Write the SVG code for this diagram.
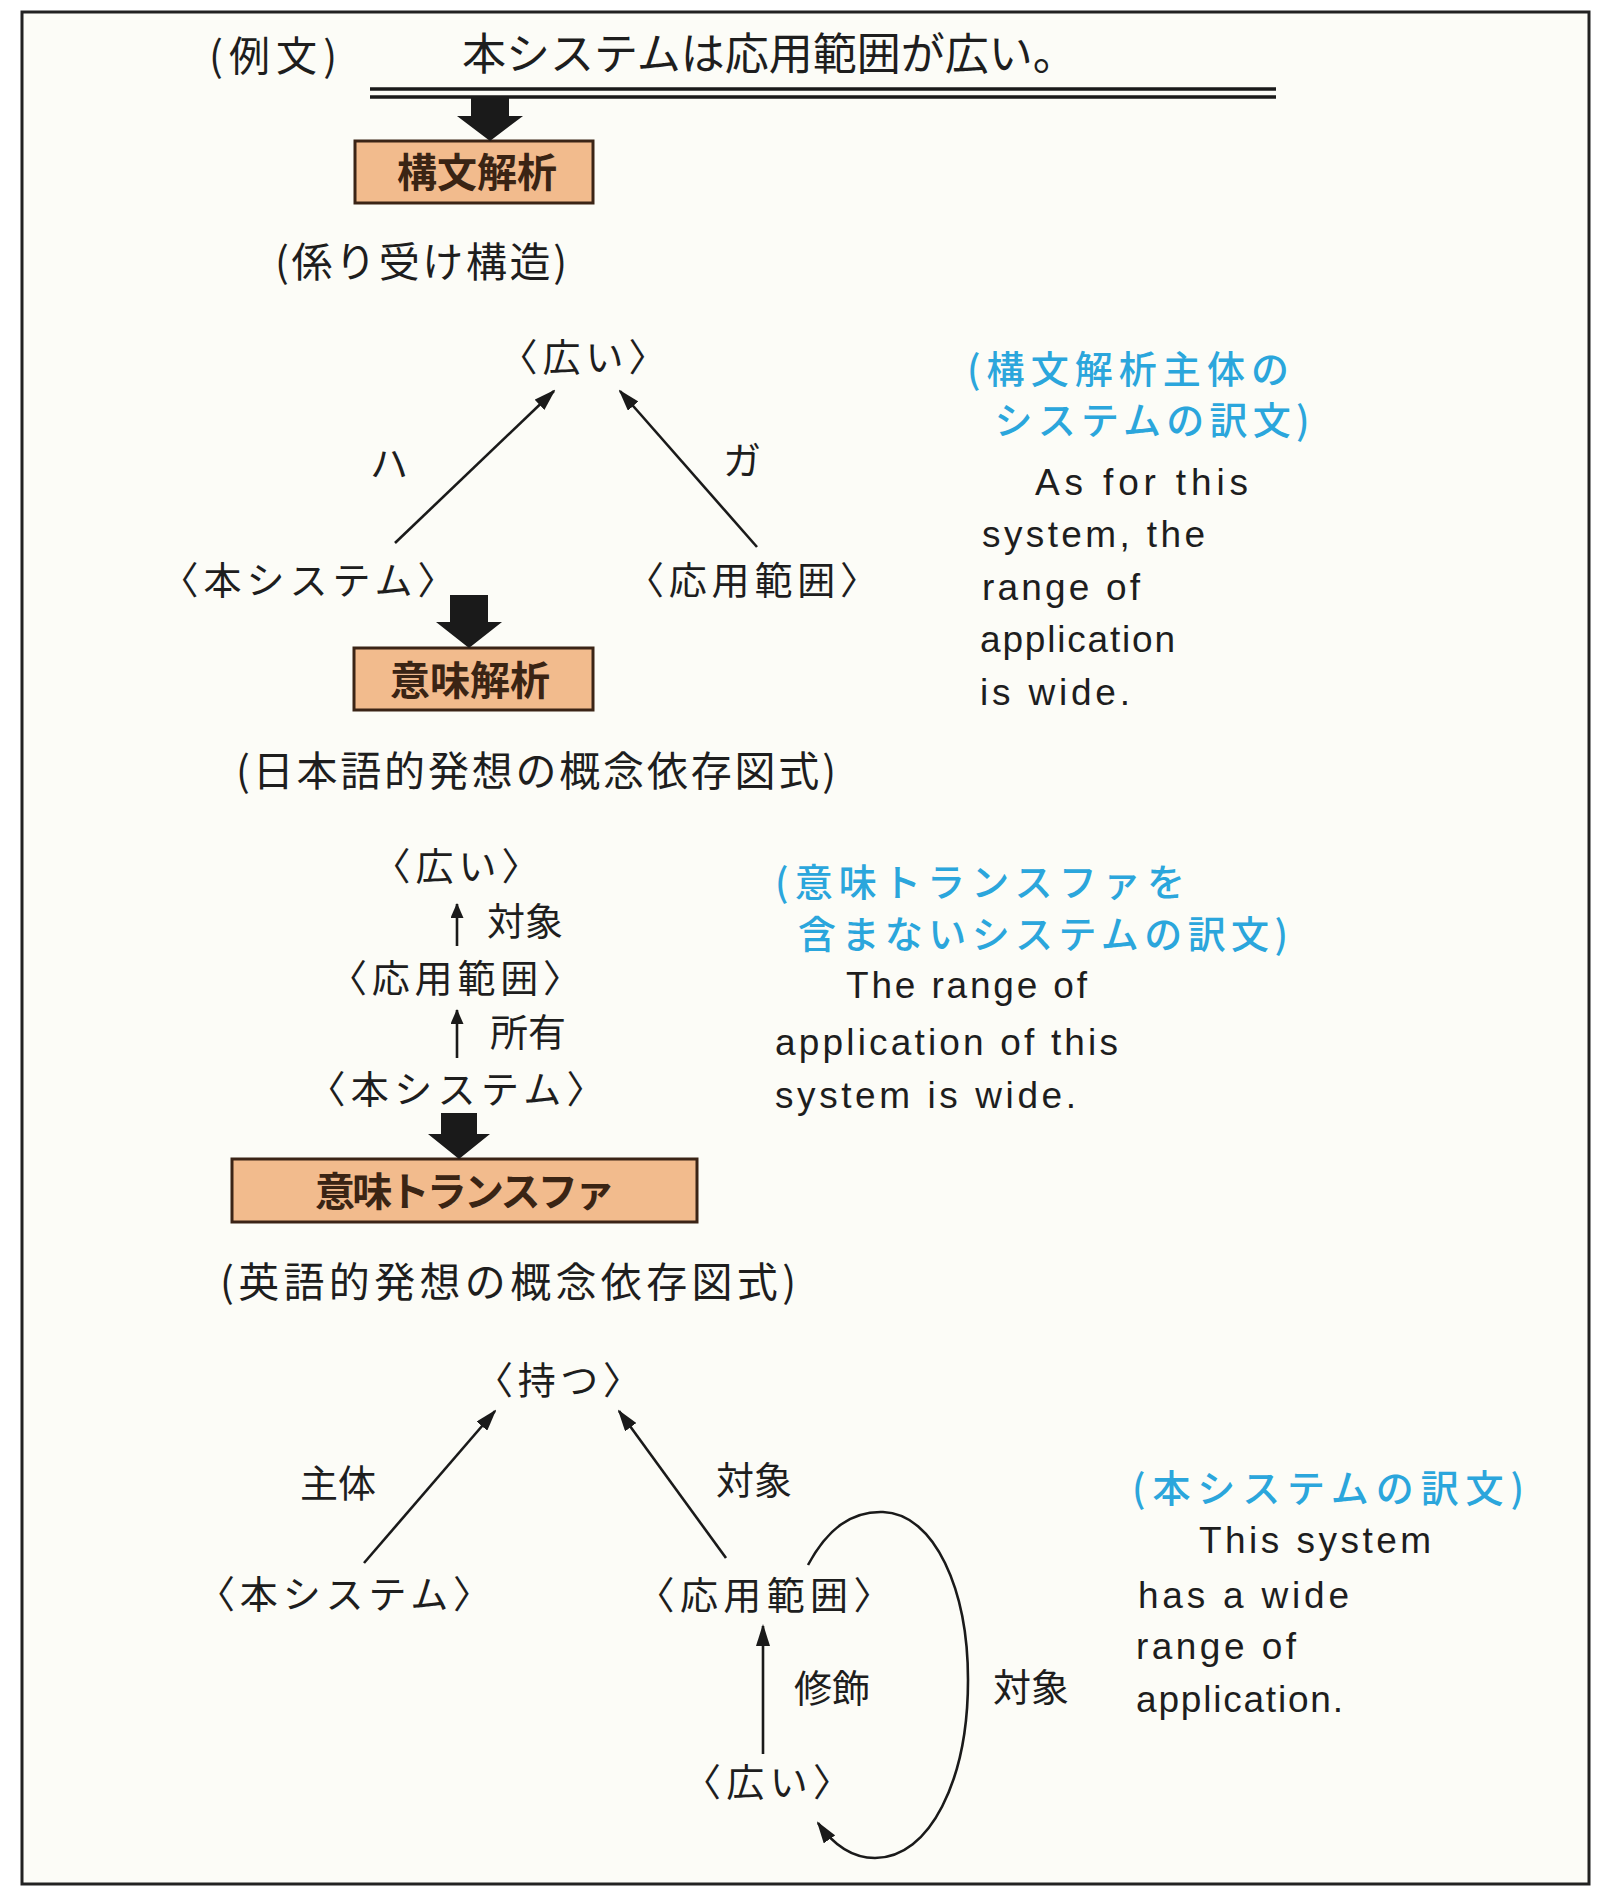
<svg xmlns="http://www.w3.org/2000/svg" width="1601" height="1888" viewBox="0 0 1601 1888">
<style>
 .jp { font-family: "Noto Sans CJK JP", "Noto Sans CJK SC", sans-serif; fill:#1e1e1e; }
 .en { font-family: "Liberation Sans Narrow", "Liberation Sans", Arial, sans-serif; fill:#1e1e1e; font-size:37px; }
 .blue { fill:#2ba6dc; font-size:38px; font-weight:500; }
 .lbl { font-size:38px; }
 .ttl { font-size:41px; }
 .box rect { fill:#f2bb8d; stroke:#3b2416; stroke-width:3; }
 .boxt { font-size:40px; font-weight:700; fill:#3a2414; }
 .edge { stroke:#1a1a1a; stroke-width:2.6; fill:none; }
 .thick { fill:#1a1a1a; }
</style>
<defs>
 <marker id="ah" viewBox="0 0 22 14" refX="20" refY="7" markerWidth="22" markerHeight="14" markerUnits="userSpaceOnUse" orient="auto">
  <path d="M0,0 L22,7 L0,14 Z" fill="#1a1a1a"/>
 </marker>
 <marker id="ahs" viewBox="0 0 15 13" refX="14" refY="6.5" markerWidth="15" markerHeight="13" markerUnits="userSpaceOnUse" orient="auto">
  <path d="M0,0 L15,6.5 L0,13 Z" fill="#1a1a1a"/>
 </marker>
</defs>

<rect x="0" y="0" width="1601" height="1888" fill="#ffffff"/>
<rect id="frame" x="22" y="12" width="1567" height="1872" fill="#fcfcf7" stroke="#222" stroke-width="3"/>

<!-- header -->
<g id="example-label"><text class="jp ttl" x="273" y="71" text-anchor="middle" textLength="128" lengthAdjust="spacing">(例文)</text></g>
<g id="example-sentence"><text class="jp" style="font-size:44px" x="462" y="70">本システムは応用範囲が広い。</text></g>
<g id="underline">
 <line x1="370" y1="89" x2="1276" y2="89" stroke="#1a1a1a" stroke-width="3.5"/>
 <line x1="370" y1="97" x2="1276" y2="97" stroke="#1a1a1a" stroke-width="3.5"/>
</g>

<!-- boxes -->
<g id="box-syntax" class="box">
 <rect x="355" y="141" width="238" height="62"/>
 <text class="jp boxt" x="477" y="187" text-anchor="middle">構文解析</text>
</g>
<g id="box-semantic" class="box">
 <rect x="354" y="648" width="239" height="62"/>
 <text class="jp boxt" x="470" y="695" text-anchor="middle">意味解析</text>
</g>
<g id="box-transfer" class="box">
 <rect x="232" y="1159" width="465" height="63"/>
 <text class="jp boxt" x="465" y="1206" text-anchor="middle" textLength="300" lengthAdjust="spacing">意味トランスファ</text>
</g>

<!-- section titles -->
<g id="title-dependency"><text class="jp ttl" x="421" y="277" text-anchor="middle" textLength="292" lengthAdjust="spacing">(係り受け構造)</text></g>
<g id="title-jp-cd"><text class="jp ttl" x="536" y="786" text-anchor="middle" textLength="600" lengthAdjust="spacing">(日本語的発想の概念依存図式)</text></g>
<g id="title-en-cd"><text class="jp ttl" x="508" y="1297" text-anchor="middle" textLength="576" lengthAdjust="spacing">(英語的発想の概念依存図式)</text></g>

<!-- section 2 nodes -->
<g id="s2-hiroi"><text class="jp lbl" x="583" y="371" text-anchor="middle" textLength="167" lengthAdjust="spacing">〈広い〉</text></g>
<g id="s2-system"><text class="jp lbl" x="308" y="594" text-anchor="middle" textLength="295" lengthAdjust="spacing">〈本システム〉</text></g>
<g id="s2-range"><text class="jp lbl" x="752" y="594" text-anchor="middle" textLength="252" lengthAdjust="spacing">〈応用範囲〉</text></g>
<g id="s2-label-ha"><text class="jp lbl" x="389" y="477" text-anchor="middle">ハ</text></g>
<g id="s2-label-ga"><text class="jp lbl" x="742" y="474" text-anchor="middle">ガ</text></g>

<!-- section 3 nodes -->
<g id="s3-hiroi"><text class="jp lbl" x="456" y="880" text-anchor="middle" textLength="167" lengthAdjust="spacing">〈広い〉</text></g>
<g id="s3-label-taisho"><text class="jp lbl" x="525" y="935" text-anchor="middle">対象</text></g>
<g id="s3-range"><text class="jp lbl" x="455" y="992" text-anchor="middle" textLength="252" lengthAdjust="spacing">〈応用範囲〉</text></g>
<g id="s3-label-shoyu"><text class="jp lbl" x="528" y="1046" text-anchor="middle">所有</text></g>
<g id="s3-system"><text class="jp lbl" x="456" y="1103" text-anchor="middle" textLength="297" lengthAdjust="spacing">〈本システム〉</text></g>

<!-- section 4 nodes -->
<g id="s4-motsu"><text class="jp lbl" x="558" y="1394" text-anchor="middle" textLength="166" lengthAdjust="spacing">〈持つ〉</text></g>
<g id="s4-label-shutai"><text class="jp lbl" x="338" y="1497" text-anchor="middle">主体</text></g>
<g id="s4-label-taisho1"><text class="jp lbl" x="754" y="1494" text-anchor="middle">対象</text></g>
<g id="s4-system"><text class="jp lbl" x="344" y="1608" text-anchor="middle" textLength="294" lengthAdjust="spacing">〈本システム〉</text></g>
<g id="s4-range"><text class="jp lbl" x="764" y="1609" text-anchor="middle" textLength="255" lengthAdjust="spacing">〈応用範囲〉</text></g>
<g id="s4-label-shushoku"><text class="jp lbl" x="832" y="1702" text-anchor="middle">修飾</text></g>
<g id="s4-hiroi"><text class="jp lbl" x="767" y="1796" text-anchor="middle" textLength="168" lengthAdjust="spacing">〈広い〉</text></g>
<g id="s4-label-taisho2"><text class="jp lbl" x="1031" y="1701" text-anchor="middle">対象</text></g>

<!-- translations -->
<g id="trans-a">
 <text class="jp blue" x="1128" y="383" text-anchor="middle" textLength="322" lengthAdjust="spacing">(構文解析主体の</text>
 <text class="jp blue" x="1152" y="434" text-anchor="middle" textLength="315" lengthAdjust="spacing">システムの訳文)</text>
 <text class="en" x="1035" y="495" textLength="213" lengthAdjust="spacing">As for this</text>
 <text class="en" x="982" y="547" textLength="223" lengthAdjust="spacing">system, the</text>
 <text class="en" x="982" y="600" textLength="158" lengthAdjust="spacing">range of</text>
 <text class="en" x="980" y="652" textLength="195" lengthAdjust="spacing">application</text>
 <text class="en" x="980" y="705" textLength="150" lengthAdjust="spacing">is wide.</text>
</g>
<g id="trans-b">
 <text class="jp blue" x="980" y="896" text-anchor="middle" textLength="410" lengthAdjust="spacing">(意味トランスファを</text>
 <text class="jp blue" x="1043" y="948" text-anchor="middle" textLength="490" lengthAdjust="spacing">含まないシステムの訳文)</text>
 <text class="en" x="846" y="998" textLength="241" lengthAdjust="spacing">The range of</text>
 <text class="en" x="775" y="1055" textLength="343" lengthAdjust="spacing">application of this</text>
 <text class="en" x="775" y="1108" textLength="301" lengthAdjust="spacing">system is wide.</text>
</g>
<g id="trans-c">
 <text class="jp blue" x="1328" y="1502" text-anchor="middle" textLength="392" lengthAdjust="spacing">(本システムの訳文)</text>
 <text class="en" x="1199" y="1553" textLength="232" lengthAdjust="spacing">This system</text>
 <text class="en" x="1138" y="1608" textLength="211" lengthAdjust="spacing">has a wide</text>
 <text class="en" x="1136" y="1659" textLength="160" lengthAdjust="spacing">range of</text>
 <text class="en" x="1136" y="1712" textLength="207" lengthAdjust="spacing">application.</text>
</g>

<!-- connectors -->
<g id="connectors">
 <polygon class="thick" points="471,98 509,98 509,116 523,116 490,141 457,116 471,116"/>
 <polygon class="thick" points="450,595 488,595 488,622 502,622 469,648 436,622 450,622"/>
 <polygon class="thick" points="441,1113 477,1113 477,1134 490,1134 459,1159 428,1134 441,1134"/>

 <line class="edge" x1="395" y1="543" x2="554" y2="391" marker-end="url(#ah)"/>
 <line class="edge" x1="757" y1="547" x2="620" y2="391" marker-end="url(#ah)"/>

 <line class="edge" x1="457" y1="946" x2="457" y2="904" stroke-width="3" marker-end="url(#ahs)"/>
 <line class="edge" x1="457" y1="1058" x2="457" y2="1010" stroke-width="3" marker-end="url(#ahs)"/>

 <line class="edge" x1="364" y1="1563" x2="495" y2="1411" marker-end="url(#ah)"/>
 <line class="edge" x1="726" y1="1558" x2="619" y2="1411" marker-end="url(#ah)"/>
 <line class="edge" x1="763" y1="1754" x2="763" y2="1626" marker-end="url(#ah)"/>
 <path class="edge" d="M808,1565 C828,1528 852,1511 883,1512 C935,1514 968,1590 968,1680 C968,1780 930,1858 875,1858 C850,1858 832,1843 818,1823" marker-end="url(#ah)"/>
</g>
</svg>
